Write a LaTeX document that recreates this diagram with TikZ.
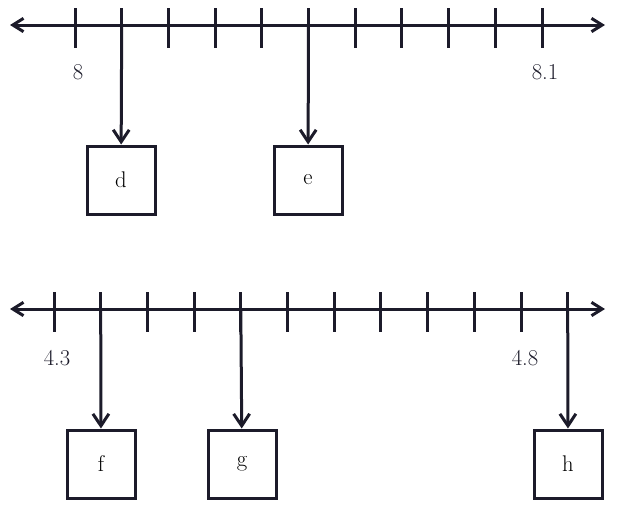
\documentclass[tikz,border=0pt]{standalone}
\usetikzlibrary{arrows.meta,positioning}
\definecolor{ink}{RGB}{28,27,42}
\tikzset{ln/.style={draw=ink,line width=2.25pt},
 ax/.style={ln,{Straight Barb[length=8pt,width=10pt]}-{Straight Barb[length=8pt,width=10pt]}},
 arr/.style={ln,-{Straight Barb[length=9pt,width=12pt]}},
 bx/.style={ln,minimum size=51pt,inner sep=0pt,font=\fontsize{17}{20}\selectfont},
 lbl/.style={text=ink,font=\fontsize{17}{20}\selectfont}}
\begin{document}
\begin{tikzpicture}[x=0.75pt,y=-0.75pt]
\useasboundingbox (0,0) rectangle (622,511);
% upper line
\coordinate (ua) at (10,25); \coordinate (ub) at (605,25);
\draw[ax] (ua)--(ub);
\foreach \i in {0,...,10}{\coordinate (u\i) at ({75+46.7*\i},25); \draw[ln] ({75+46.7*\i},8)--({75+46.7*\i},48);}
\node[lbl] (l8) at (78,72) {8};
\node[lbl] (l81) at (545,72) {8.1};
\node[bx] (d) at (121,180) {d};
\node[bx] (e) at (308,180) {e};
\draw[arr] (u1)--(d);\draw[arr] (u5)--(e);
% lower line
\coordinate (da) at (10,309); \coordinate (db) at (605,309);
\draw[ax] (da)--(db);
\foreach \i in {0,...,11}{\coordinate (w\i) at ({54+46.7*\i},309); \draw[ln] ({54+46.7*\i},292)--({54+46.7*\i},332);}
\node[lbl] (l43) at (57,358) {4.3};
\node[lbl] (l48) at (525,358) {4.8};
\node[bx] (f) at (101,464) {f};
\node[bx] (g) at (242,464) {g};
\node[bx] (h) at (568,464) {h};
\draw[arr] (w1)--(f);\draw[arr] (w4)--(g);\draw[arr] (w11)--(h);
\end{tikzpicture}
\end{document}
